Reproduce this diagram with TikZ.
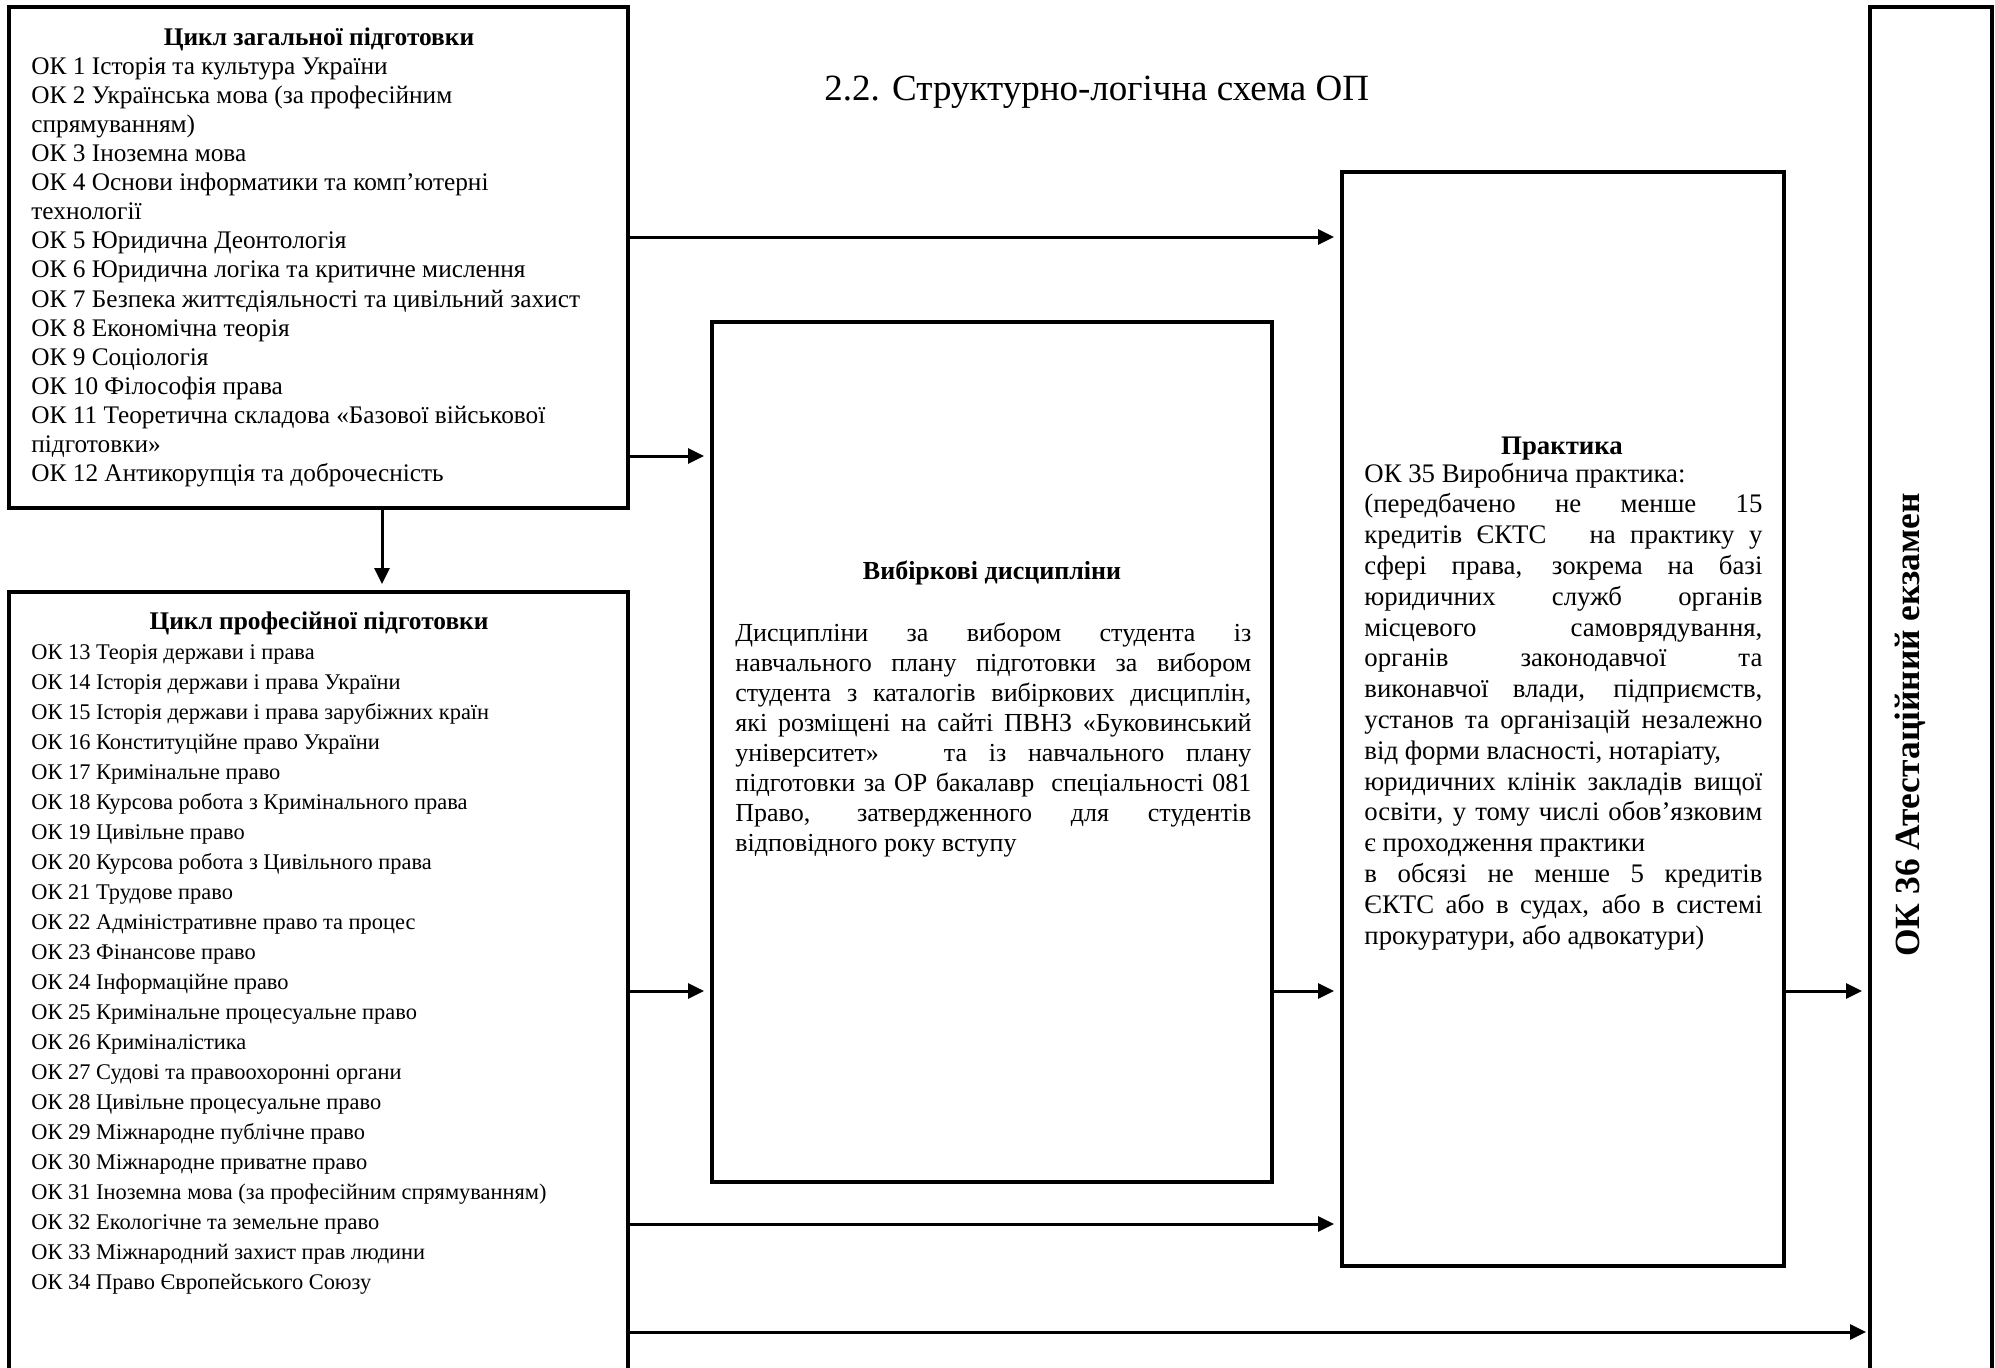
\documentclass[tikz,border=0pt]{standalone}
\usepackage{fontspec}
\setmainfont{Liberation Serif}
\usetikzlibrary{arrows.meta,fit}
\newcommand\jline[1]{\hbox to\hsize{#1}}
\newcommand\lline[1]{\hbox to\hsize{#1\hfil}}
\tikzset{
  box/.style={draw, line width=2pt, inner sep=0pt},
  arr/.style={line width=1.5pt, -{Triangle[length=8pt,width=7.5pt]}, shorten >=3pt},
  txt/.style={anchor=base west, inner sep=0pt},
  ttl/.style={anchor=base, inner sep=0pt, font=\bfseries\fontsize{12.7}{14.6}\selectfont},
}
\begin{document}
\begin{tikzpicture}[x=0.5pt,y=-0.5pt]
\useasboundingbox (0,0) rectangle (1995,1367);
\clip (0,0) rectangle (1995,1367);
% boxes
\node[box, fit={(9,7) (628,508)}] (gen) {};
\node[box, fit={(9,592) (628,1420)}] (prof) {};
\node[box, fit={(712,322) (1272,1182)}] (vyb) {};
\node[box, fit={(1342,172) (1784,1266)}] (prac) {};
\node[box, fit={(1870,7) (1992,1420)}] (att) {};
% title
\node[anchor=base west, inner sep=0pt] (head) at (824,100) {\fontsize{18.5}{22}\selectfont 2.2. Структурно-логічна схема ОП};
% general cycle
\node[ttl] (gent) at (319,45) {Цикл загальної підготовки};
\node[txt] (genl) at (31,74) {\parbox[t]{300pt}{\fontsize{12.65}{14.57}\selectfont
ОК 1 Історія та культура України\\
ОК 2 Українська мова (за професійним\\
спрямуванням)\\
ОК 3 Іноземна мова\\
ОК 4 Основи інформатики та комп’ютерні\\
технології\\
ОК 5 Юридична Деонтологія\\
ОК 6 Юридична логіка та критичне мислення\\
ОК 7 Безпека життєдіяльності та цивільний захист\\
ОК 8 Економічна теорія\\
ОК 9 Соціологія\\
ОК 10 Філософія права\\
ОК 11 Теоретична складова «Базової військової\\
підготовки»\\
ОК 12 Антикорупція та доброчесність}};
% professional cycle
\node[ttl] (proft) at (319,629) {Цикл професійної підготовки};
\node[txt] (profl) at (31,659) {\parbox[t]{300pt}{\fontsize{11.2}{15}\selectfont
ОК 13 Теорія держави і права\\
ОК 14 Історія держави і права України\\
ОК 15 Історія держави і права зарубіжних країн\\
ОК 16 Конституційне право України\\
ОК 17 Кримінальне право\\
ОК 18 Курсова робота з Кримінального права\\
ОК 19 Цивільне право\\
ОК 20 Курсова робота з Цивільного права\\
ОК 21 Трудове право\\
ОК 22 Адміністративне право та процес\\
ОК 23 Фінансове право\\
ОК 24 Інформаційне право\\
ОК 25 Кримінальне процесуальне право\\
ОК 26 Криміналістика\\
ОК 27 Судові та правоохоронні органи\\
ОК 28 Цивільне процесуальне право\\
ОК 29 Міжнародне публічне право\\
ОК 30 Міжнародне приватне право\\
ОК 31 Іноземна мова (за професійним спрямуванням)\\
ОК 32 Екологічне та земельне право\\
ОК 33 Міжнародний захист прав людини\\
ОК 34 Право Європейського Союзу}};
% elective
\node[ttl, font=\bfseries\fontsize{13}{15}\selectfont] (vybt) at (992,579) {Вибіркові дисципліни};
\node[txt] (vybl) at (735,641) {\parbox[t]{258pt}{\fontsize{13}{15}\selectfont
\jline{Дисципліни за вибором студента із}
\jline{навчального плану підготовки за вибором}
\jline{студента з каталогів вибіркових дисциплін,}
\jline{які розміщені на сайті ПВНЗ «Буковинський}
\jline{університет»\ \ \ та із навчального плану}
\jline{підготовки за ОР бакалавр\ \ спеціальності 081}
\jline{Право, затвердженного для студентів}
\lline{відповідного року вступу}}};
% practice
\node[ttl, font=\bfseries\fontsize{13.4}{15.4}\selectfont] (pract) at (1562,454) {Практика};
\node[txt] (pracl) at (1364,482) {\parbox[t]{199pt}{\fontsize{13.4}{15.4}\selectfont
\lline{ОК 35 Виробнича практика:}
\jline{(передбачено не менше 15}
\jline{кредитів ЄКТС\ \ \ на практику у}
\jline{сфері права, зокрема на базі}
\jline{юридичних служб органів}
\jline{місцевого самоврядування,}
\jline{органів законодавчої та}
\jline{виконавчої влади, підприємств,}
\jline{установ та організацій незалежно}
\lline{від форми власності, нотаріату,}
\jline{юридичних клінік закладів вищої}
\jline{освіти, у тому числі обов’язковим}
\lline{є проходження практики}
\jline{в обсязі не менше 5 кредитів}
\jline{ЄКТС або в судах, або в системі}
\lline{прокуратури, або адвокатури)}}};
% attestation
\node[rotate=90, inner sep=0pt, font=\bfseries\fontsize{17.7}{20}\selectfont] (attt) at (1910,725) {ОК 36 Атестаційний екзамен};
% connector levels
\coordinate (y1) at (0,237);
\coordinate (y2) at (0,456);
\coordinate (y3) at (0,991);
\coordinate (y4) at (0,1224);
\coordinate (y5) at (0,1332);
\coordinate (xd) at (382,0);
\draw[arr] (gen.east |- y1) -- (prac.west |- y1);
\draw[arr] (gen.east |- y2) -- (vyb.west |- y2);
\draw[arr] (prof.east |- y3) -- (vyb.west |- y3);
\draw[arr] (prof.east |- y4) -- (prac.west |- y4);
\draw[arr, shorten >=1pt] (prof.east |- y5) -- (att.west |- y5);
\draw[arr] (vyb.east |- y3) -- (prac.west |- y3);
\draw[arr] (prac.east |- y3) -- (att.west |- y3);
\draw[arr] (gen.south -| xd) -- (prof.north -| xd);
\end{tikzpicture}
\end{document}
